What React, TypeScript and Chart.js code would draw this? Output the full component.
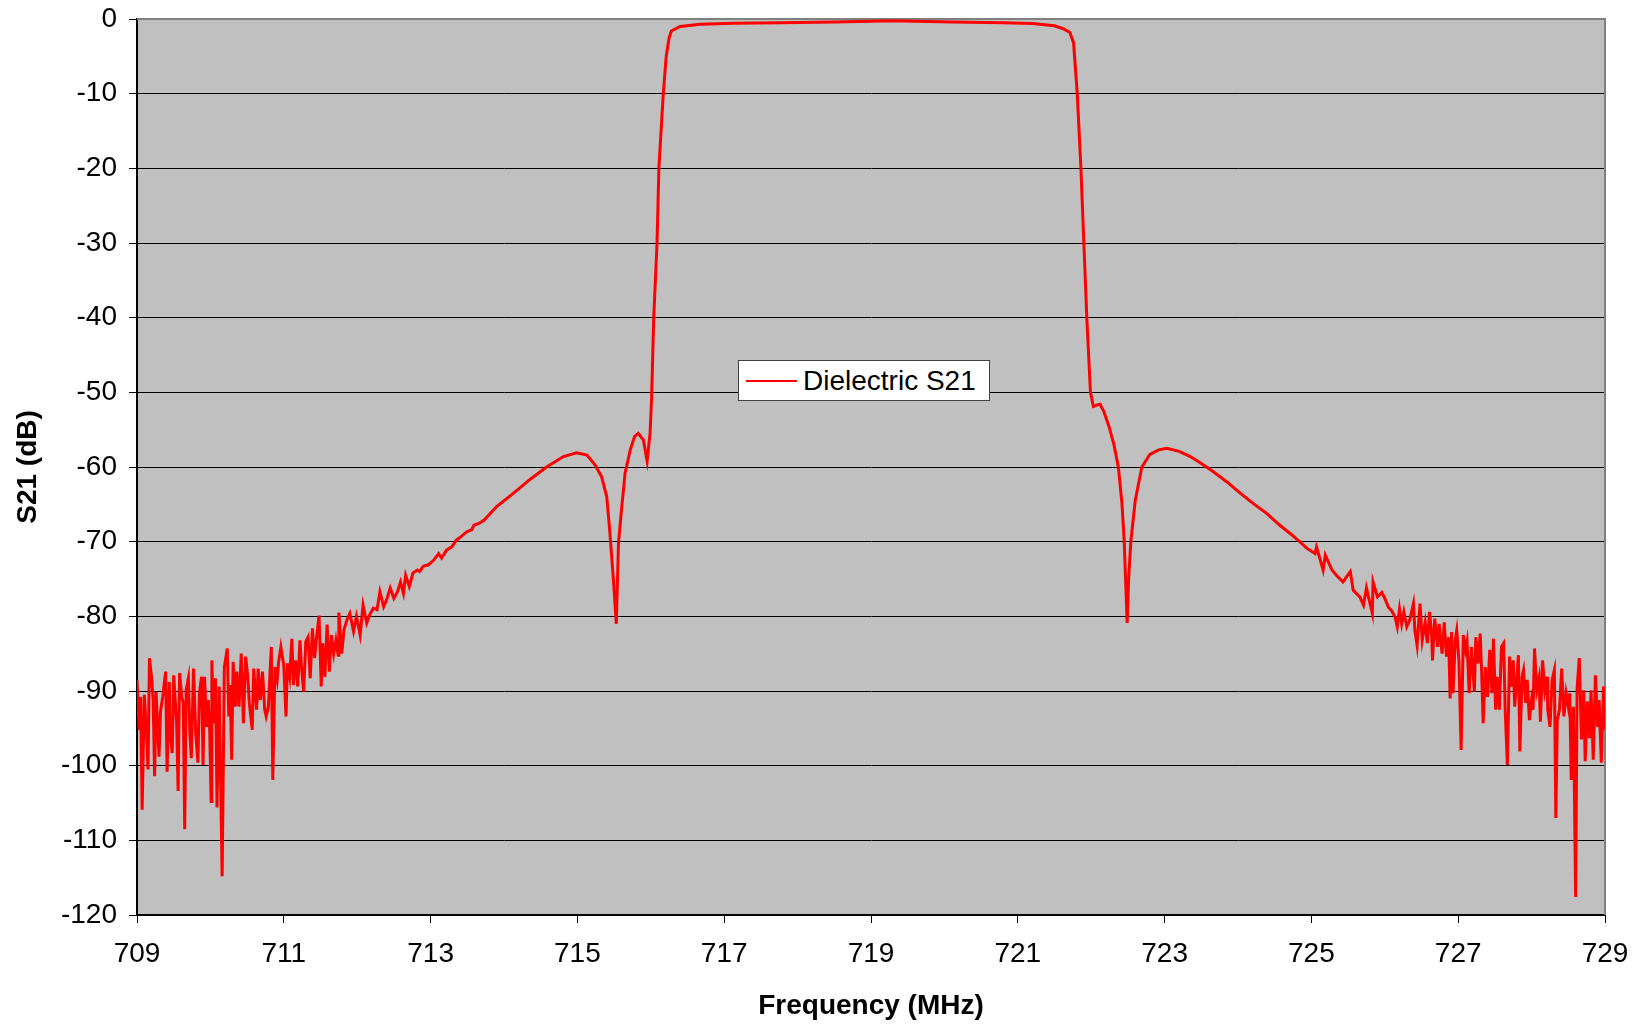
import React, { useEffect, useRef } from "react";
import { Chart, registerables } from "chart.js";

Chart.register(...registerables);

const seriesLabel = "Dielectric S21";
const xTitle = "Frequency (MHz)";
const yTitle = "S21 (dB)";
const xTicks = [709, 711, 713, 715, 717, 719, 721, 723, 725, 727, 729];
const yTicks = [-120, -110, -100, -90, -80, -70, -60, -50, -40, -30, -20, -10, 0];

const freqMHz = [
  709.00, 709.03, 709.05, 709.07, 709.10, 709.13, 709.15, 709.17, 709.20, 709.22,
  709.24, 709.26, 709.30, 709.32, 709.35, 709.39, 709.41, 709.44, 709.45, 709.48,
  709.50, 709.54, 709.56, 709.58, 709.61, 709.63, 709.65, 709.67, 709.70, 709.72,
  709.74, 709.77, 709.80, 709.83, 709.85, 709.88, 709.90, 709.92, 709.95, 709.97,
  709.99, 710.01, 710.02, 710.04, 710.07, 710.09, 710.12, 710.16, 710.19, 710.23,
  710.25, 710.27, 710.29, 710.31, 710.34, 710.36, 710.39, 710.42, 710.45, 710.48,
  710.51, 710.53, 710.57, 710.59, 710.63, 710.65, 710.68, 710.71, 710.74, 710.76,
  710.79, 710.83, 710.85, 710.88, 710.91, 710.93, 710.96, 711.00, 711.03, 711.05,
  711.08, 711.11, 711.13, 711.16, 711.19, 711.22, 711.24, 711.27, 711.30, 711.33,
  711.36, 711.39, 711.42, 711.44, 711.48,
  711.51, 711.53, 711.56, 711.59, 711.62, 711.65, 711.68, 711.71, 711.74, 711.75,
  711.79, 711.82, 711.86, 711.90, 711.95, 711.99, 712.04, 712.08, 712.13, 712.17,
  712.22, 712.27, 712.31, 712.36, 712.40, 712.45, 712.50, 712.55, 712.59, 712.63,
  712.66, 712.71, 712.76, 712.82, 712.85, 712.90, 712.97, 713.04, 713.11, 713.15,
  713.22, 713.29, 713.35, 713.42, 713.49, 713.56, 713.59, 713.67, 713.73,
  713.90, 714.13, 714.35, 714.58, 714.81, 714.99, 715.13, 715.24, 715.33, 715.40,
  715.44, 715.49, 715.53, 715.56, 715.60, 715.65, 715.72, 715.78, 715.83, 715.90,
  715.95, 715.99, 716.01, 716.04, 716.085, 716.11, 716.17, 716.21, 716.25, 716.28,
  716.40, 716.67, 717.13, 717.77, 718.50, 719.30, 720.10, 720.80, 721.20, 721.50,
  721.62, 721.71, 721.76, 721.81, 721.86, 721.90, 721.94, 721.99, 722.03, 722.08,
  722.12, 722.17, 722.24, 722.31, 722.37, 722.42, 722.45, 722.47, 722.49, 722.51,
  722.54, 722.60, 722.69, 722.80, 722.92, 723.03, 723.20, 723.35, 723.48, 723.66,
  723.85, 724.03, 724.21, 724.39, 724.57, 724.71, 724.84, 724.94, 725.05, 725.07,
  725.16, 725.19, 725.28, 725.34, 725.43, 725.53, 725.57, 725.66, 725.71, 725.75,
  725.83, 725.84, 725.90,
  725.96, 726.00, 726.05, 726.09, 726.14, 726.17, 726.20, 726.23, 726.26, 726.30,
  726.34, 726.39, 726.41, 726.44, 726.48, 726.51, 726.55, 726.58, 726.61, 726.64,
  726.65, 726.68, 726.72, 726.74, 726.78, 726.81, 726.84, 726.87, 726.89, 726.91,
  726.93, 726.96, 726.98, 727.01, 727.04, 727.07, 727.10, 727.12, 727.15, 727.18,
  727.22, 727.24, 727.27, 727.30, 727.32, 727.34, 727.37, 727.40, 727.43, 727.46,
  727.48, 727.51, 727.53, 727.56, 727.59, 727.62, 727.64, 727.67, 727.70, 727.73,
  727.75, 727.77, 727.80, 727.82, 727.84, 727.87, 727.89, 727.92, 727.94, 727.97,
  728.00, 728.02, 728.04, 728.07, 728.10, 728.12, 728.15, 728.18, 728.21, 728.22,
  728.25, 728.28, 728.31, 728.33, 728.35, 728.38, 728.41, 728.44, 728.47, 728.50,
  728.52, 728.54, 728.57, 728.60, 728.62, 728.65, 728.68, 728.71, 728.73, 728.76,
  728.79, 728.81, 728.84, 728.87, 728.90, 728.92, 728.95, 728.98, 729.00,
];

const s21dB = [
  -88.5, -95.2, -90.8, -105.9, -90.5, -95.6, -100.5, -85.6, -88.3, -91.2,
  -101.4, -90.1, -98.8, -92.8, -90.8, -87.4, -100.8, -88.8, -95.6, -98.3,
  -87.9, -94.3, -103.4, -87.6, -90.8, -91.6, -108.5, -89.9, -88.3, -95.6,
  -99.0, -87.0, -95.6, -99.6, -90.3, -88.1, -99.9, -88.1, -94.8, -91.2,
  -95.0, -104.8, -85.9, -94.3, -88.3, -105.6, -89.4, -114.8, -86.8, -84.3,
  -93.4, -89.2, -99.2, -86.1, -92.1, -87.4, -92.1, -85.0, -94.3, -85.4,
  -88.1, -91.6, -95.2, -87.0, -92.5, -87.0, -91.2, -87.4, -92.5, -93.4,
  -92.1, -84.1, -101.9, -86.8, -88.5, -86.1, -84.1, -86.6, -93.4, -86.3,
  -88.1, -83.0, -89.2, -85.9, -89.4, -83.2, -86.6, -90.1, -83.4, -82.8,
  -88.3, -81.6, -85.6, -83.4, -79.9,
  -89.4, -83.6, -88.1, -81.1, -87.4, -82.5, -85.0, -83.2, -85.2, -79.5,
  -85.0, -81.8, -80.5, -79.6, -82.0, -80.0, -82.5, -78.5, -80.9, -79.8,
  -78.9, -79.1, -76.7, -78.7, -77.8, -76.2, -77.6, -76.7, -75.4, -76.9,
  -74.5, -76.0, -74.2, -73.8, -74.0, -73.3, -73.1, -72.5, -71.6, -72.2,
  -71.1, -70.7, -69.8, -69.3, -68.7, -68.4, -67.8, -67.5, -67.1,
  -65.3, -63.5, -61.7, -60.0, -58.6, -58.1, -58.4, -59.7, -61.3, -64.0,
  -68.5, -75.0, -81.0, -70.2, -65.8, -60.8, -57.7, -55.9, -55.5, -56.4,
  -59.2, -55.5, -51.0, -40.0, -30.0, -20.0, -10.0, -5.0, -2.5, -1.6,
  -1.0, -0.7, -0.57, -0.5, -0.4, -0.25, -0.4, -0.5, -0.6, -0.9,
  -1.3, -1.8, -3.2, -10.0, -20.0, -30.0, -40.0, -50.0, -51.9, -51.7,
  -51.6, -52.5, -54.5, -57.0, -60.0, -65.0, -70.0, -75.5, -80.9, -75.0,
  -70.0, -64.5, -60.0, -58.3, -57.7, -57.5, -57.9, -58.6, -59.4, -60.6,
  -62.0, -63.5, -64.9, -66.2, -67.8, -68.9, -70.0, -70.9, -71.6, -70.7,
  -73.8, -71.8, -73.8, -74.5, -75.4, -74.0, -76.5, -77.4, -78.5, -76.2,
  -79.6, -75.4, -77.4,
  -76.8, -77.6, -78.8, -79.2, -80.1, -81.4, -79.0, -81.0, -79.4, -81.4,
  -80.5, -78.3, -81.9, -83.9, -78.3, -83.2, -80.8, -83.6, -79.4, -82.8,
  -85.9, -80.3, -84.1, -81.0, -85.0, -80.8, -85.4, -82.8, -91.0, -82.1,
  -90.3, -83.2, -81.9, -85.9, -97.9, -82.5, -84.5, -83.4, -90.3, -84.1,
  -90.1, -82.8, -86.3, -82.3, -87.6, -94.3, -86.8, -90.8, -84.5, -90.3,
  -83.0, -92.5, -88.1, -92.5, -84.1, -83.6, -92.5, -99.9, -85.4, -89.4,
  -85.9, -92.1, -88.1, -85.2, -98.1, -88.1, -87.2, -91.6, -88.5, -93.9,
  -91.2, -92.5, -84.3, -89.9, -88.3, -94.1, -85.9, -89.9, -88.1, -92.5,
  -94.8, -88.5, -87.2, -107.0, -93.9, -92.5, -87.0, -93.4, -90.3, -92.1,
  -90.3, -101.9, -92.1, -117.6, -89.6, -85.6, -96.5, -89.9, -99.4, -91.4,
  -96.3, -89.9, -99.2, -87.9, -94.8, -91.2, -99.6, -89.4, -95.2,
];

const FONT = '"Liberation Sans", Arial, Helvetica, sans-serif';

export default function App() {
  const ref = useRef<HTMLCanvasElement | null>(null);

  useEffect(() => {
    document.body.style.margin = "0";
    const canvas = ref.current;
    if (!canvas) return;

    const plotFrame = {
      id: "plotFrame",
      beforeDraw(chart: any) {
        const { ctx, chartArea: a } = chart;
        ctx.save();
        ctx.fillStyle = "#C0C0C0";
        ctx.fillRect(a.left, a.top, a.right - a.left, a.bottom - a.top);
        ctx.restore();
      },
      beforeDatasetsDraw(chart: any) {
        const { ctx, chartArea: a } = chart;
        ctx.save();
        ctx.strokeStyle = "#808080";
        ctx.lineWidth = 2;
        ctx.beginPath();
        ctx.moveTo(a.left, a.top);
        ctx.lineTo(a.right, a.top);
        ctx.lineTo(a.right, a.bottom);
        ctx.stroke();
        ctx.restore();
      },
    };

    const chart = new Chart(canvas, {
      type: "line",
      data: {
        datasets: [
          {
            label: seriesLabel,
            data: freqMHz.map((f, i) => ({ x: f, y: s21dB[i] })),
            borderColor: "#FF0000",
            backgroundColor: "#FF0000",
            borderWidth: 3,
            pointRadius: 0,
            tension: 0,
            fill: false,
          },
        ],
      },
      options: {
        animation: false,
        responsive: false,
        devicePixelRatio: 1,
        layout: { padding: { left: 0, right: 35, top: 19, bottom: 0 } },
        plugins: { legend: { display: false }, tooltip: { enabled: false } },
        scales: {
          x: {
            type: "linear",
            min: 709,
            max: 729,
            afterBuildTicks: (s: any) => {
              s.ticks = xTicks.map((v) => ({ value: v }));
            },
            afterFit: (s: any) => {
              s.height = 112;
              s.paddingLeft = 0;
              s.paddingRight = 0;
            },
            ticks: {
              autoSkip: false,
              maxRotation: 0,
              color: "#000",
              padding: 14,
              font: { family: FONT, size: 28 },
              callback: (v: any) => String(v),
            },
            grid: { drawOnChartArea: false, drawTicks: true, tickLength: 8, color: "#000", lineWidth: 1 },
            border: { display: true, color: "#000", width: 2 },
            title: {
              display: true,
              text: xTitle,
              color: "#000",
              font: { family: FONT, size: 28, weight: "bold" },
              padding: { top: 0, bottom: 4 },
            },
          },
          y: {
            type: "linear",
            min: -120,
            max: 0,
            afterBuildTicks: (s: any) => {
              s.ticks = yTicks.map((v) => ({ value: v }));
            },
            afterFit: (s: any) => {
              s.width = 137;
              s.paddingTop = 0;
              s.paddingBottom = 0;
            },
            ticks: {
              autoSkip: false,
              color: "#000",
              padding: 12,
              font: { family: FONT, size: 28 },
              callback: (v: any) => String(v),
            },
            grid: { drawOnChartArea: true, drawTicks: true, tickLength: 8, color: "#000", lineWidth: 1 },
            border: { display: true, color: "#000", width: 2 },
            title: {
              display: true,
              text: yTitle,
              color: "#000",
              font: { family: FONT, size: 28, weight: "bold" },
              padding: { top: 11, bottom: 0 },
            },
          },
        },
      },
      plugins: [plotFrame],
    } as any);

    return () => {
      chart.destroy();
    };
  }, []);

  return (
    <div style={{ position: "relative", width: 1640, height: 1027, overflow: "hidden", background: "#fff" }}>
      <canvas ref={ref} width={1640} height={1027} style={{ display: "block", width: 1640, height: 1027 }} />
      <div
        style={{
          position: "absolute",
          left: 738,
          top: 360,
          width: 252,
          height: 41,
          boxSizing: "border-box",
          border: "1px solid #404040",
          background: "#fff",
          display: "flex",
          alignItems: "center",
          fontFamily: FONT,
          fontSize: 28,
          color: "#000",
          whiteSpace: "nowrap",
        }}
      >
        <span style={{ display: "inline-block", width: 51, height: 2, background: "#FF0000", marginLeft: 7, marginRight: 6 }} />
        <span>{seriesLabel}</span>
      </div>
    </div>
  );
}
